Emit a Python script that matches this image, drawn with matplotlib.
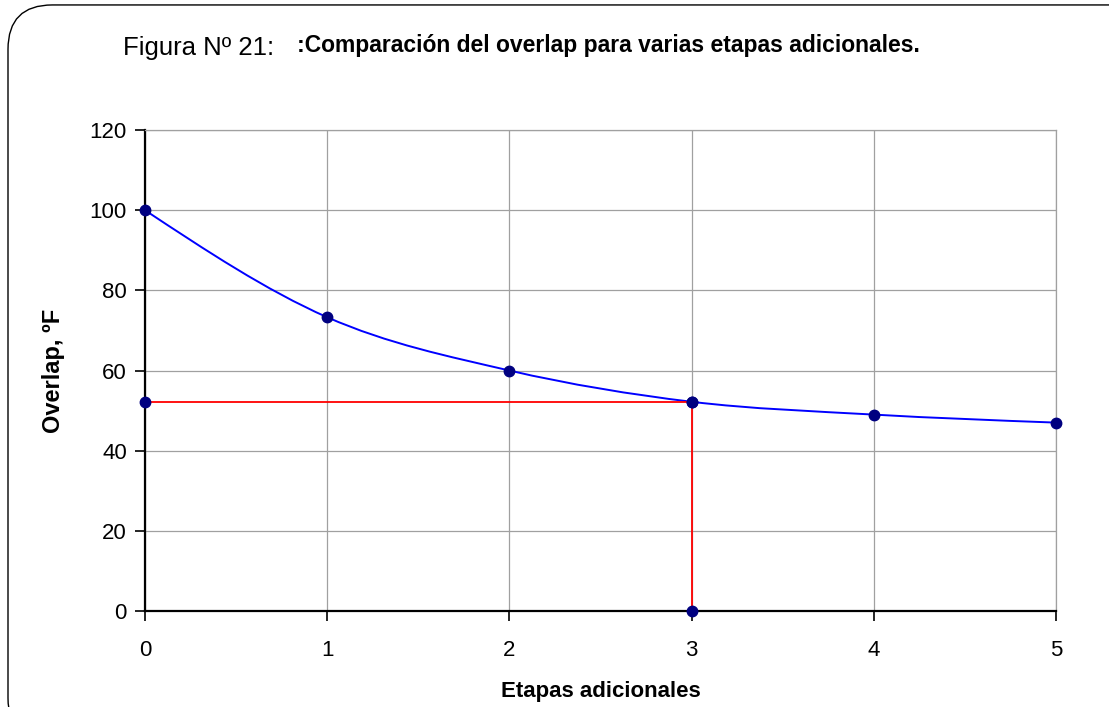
import matplotlib
matplotlib.use("Agg")
import matplotlib.pyplot as plt
from matplotlib.patches import FancyBboxPatch, PathPatch
from matplotlib.path import Path

# data
etapas = [0, 1, 2, 3, 4, 5]
overlap = [100.0, 73.3, 60.0, 52.2, 49.0, 47.0]

# red guide series (chosen design point)
guia_x = [0, 3, 3]
guia_y = [52.2, 52.2, 0]

x_ticks = [0, 1, 2, 3, 4, 5]
y_ticks = [0, 20, 40, 60, 80, 100, 120]

plt.rcParams["font.family"] = ["Liberation Sans", "DejaVu Sans"]


def smooth_path(xs, ys):
    # Excel-style smoothed line: cubic Bezier through each point
    pts = list(zip(xs, ys))
    n = len(pts)
    segs = []
    for i in range(n - 1):
        p1, p2 = pts[i], pts[i + 1]
        c1 = c2 = None
        if i > 0:
            p0 = pts[i - 1]
            c1 = (p1[0] + (p2[0] - p0[0]) / 6, p1[1] + (p2[1] - p0[1]) / 6)
        if i + 2 < n:
            p3 = pts[i + 2]
            c2 = (p2[0] - (p3[0] - p1[0]) / 6, p2[1] - (p3[1] - p1[1]) / 6)
        if c1 is None:
            c1 = (p1[0] + (c2[0] - p1[0]) / 2, p1[1] + (c2[1] - p1[1]) / 2)
        if c2 is None:
            c2 = (p2[0] + (c1[0] - p2[0]) / 2, p2[1] + (c1[1] - p2[1]) / 2)
        segs.append((c1, c2, p2))
    verts = [pts[0]]
    codes = [Path.MOVETO]
    for c1, c2, p2 in segs:
        verts += [c1, c2, p2]
        codes += [Path.CURVE4] * 3
    return Path(verts, codes)


fig = plt.figure(figsize=(11.09, 7.07), dpi=100)
ax = fig.add_axes([0.1307, 0.1358, 0.8215, 0.6803])

# rounded outer frame (runs off right and bottom edges)
frame = FancyBboxPatch(
    (8 / 1109, -0.05), 1.2, 1.043,
    boxstyle="round,pad=0,rounding_size=0.04",
    transform=fig.transFigure, facecolor="none", edgecolor="black",
    linewidth=1.0, mutation_aspect=1109 / 707,
)
fig.patches.append(frame)

ax.set_xlim(0, 5)
ax.set_ylim(0, 120)
ax.set_xticks(x_ticks)
ax.set_yticks(y_ticks)
ax.grid(True, color="#a0a0a0", linewidth=0.9)
ax.set_axisbelow(True)

for side in ("top", "right"):
    ax.spines[side].set_color("#a0a0a0")
    ax.spines[side].set_linewidth(0.9)
for side in ("left", "bottom"):
    ax.spines[side].set_color("black")
    ax.spines[side].set_linewidth(1.6)

ax.tick_params(axis="both", direction="out", length=7, width=1.2,
               labelsize=16, colors="black")
ax.tick_params(axis="x", pad=14)
ax.tick_params(axis="y", pad=6)

ax.add_patch(PathPatch(smooth_path(etapas, overlap), facecolor="none",
                       edgecolor="#0000ff", linewidth=1.4, zorder=3))
ax.plot(etapas, overlap, linestyle="none", marker="o", markersize=7.5,
        color="#000080", zorder=5, clip_on=False)

ax.plot(guia_x, guia_y, color="#ff0000", linewidth=1.3, marker="o",
        markersize=7.5, markerfacecolor="#000080", markeredgecolor="#000080",
        zorder=4, clip_on=False)

ax.set_xlabel("Etapas adicionales", fontsize=16, fontweight="bold", labelpad=14)
ax.set_ylabel("Overlap, ºF", fontsize=17, fontweight="bold", labelpad=18)

fig.text(123 / 1109, 1 - 55 / 707, "Figura Nº 21:", fontsize=18.5,
         ha="left", va="baseline")
fig.text(297 / 1109, 1 - 52 / 707,
         ":Comparación del overlap para varias etapas adicionales.",
         fontsize=16.5, fontweight="bold", ha="left", va="baseline")

fig.savefig("out.png", dpi=100)
